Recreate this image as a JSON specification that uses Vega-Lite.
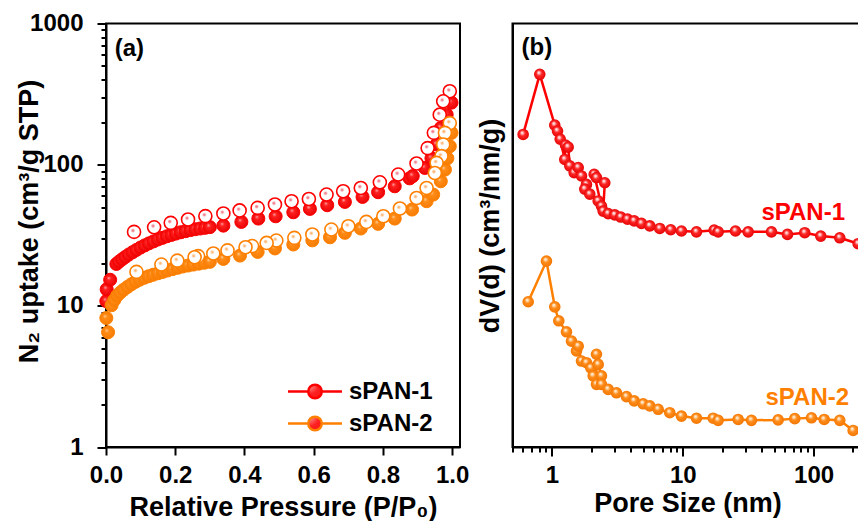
{
  "$schema": "https://vega.github.io/schema/vega-lite/v6.json",
  "background": "white",
  "padding": {"left": 14, "top": 10.5, "right": 0, "bottom": 0},
  "config": {
    "font": "Liberation Sans",
    "view": {"stroke": "black", "strokeWidth": 2},
    "axis": {
      "domainColor": "black", "domainWidth": 2,
      "tickColor": "black", "tickWidth": 2,
      "labelFont": "Liberation Sans", "labelFontSize": 24, "labelFontWeight": "bold", "labelColor": "black",
      "titleFont": "Liberation Sans", "titleFontSize": 27, "titleFontWeight": "bold", "titleColor": "black",
      "grid": false, "labelOverlap": false, "labelBound": false, "labelFlush": false
    },
    "text": {"font": "Liberation Sans", "fontWeight": "bold", "fontSize": 24}
  },
  "datasets": {
    "ads1": [
      {"p": 0.001, "v": 10.8}, {"p": 0.002, "v": 13.1}, {"p": 0.012, "v": 15.3},
      {"p": 0.030, "v": 19.8}, {"p": 0.038, "v": 20.6}, {"p": 0.047, "v": 21.4}, {"p": 0.056, "v": 22.2},
      {"p": 0.066, "v": 23.1}, {"p": 0.077, "v": 24.0}, {"p": 0.088, "v": 24.9}, {"p": 0.100, "v": 25.9},
      {"p": 0.112, "v": 26.8}, {"p": 0.124, "v": 27.7}, {"p": 0.137, "v": 28.6}, {"p": 0.150, "v": 29.5},
      {"p": 0.163, "v": 30.3}, {"p": 0.176, "v": 31.1}, {"p": 0.189, "v": 31.8}, {"p": 0.202, "v": 32.5},
      {"p": 0.216, "v": 33.2}, {"p": 0.230, "v": 33.8}, {"p": 0.244, "v": 34.4}, {"p": 0.258, "v": 34.9},
      {"p": 0.272, "v": 35.3}, {"p": 0.286, "v": 35.7}, {"p": 0.300, "v": 36.1}, {"p": 0.339, "v": 37.0},
      {"p": 0.391, "v": 39.3}, {"p": 0.440, "v": 41.5}, {"p": 0.490, "v": 43.1}, {"p": 0.541, "v": 46.0},
      {"p": 0.589, "v": 48.6}, {"p": 0.639, "v": 51.6}, {"p": 0.690, "v": 54.5}, {"p": 0.741, "v": 59.1},
      {"p": 0.786, "v": 63.8}, {"p": 0.834, "v": 70.3}, {"p": 0.877, "v": 80.0}, {"p": 0.886, "v": 83.0},
      {"p": 0.921, "v": 94.8}, {"p": 0.940, "v": 111}, {"p": 0.955, "v": 139}, {"p": 0.967, "v": 182},
      {"p": 0.984, "v": 226}, {"p": 0.998, "v": 275}
    ],
    "des1": [
      {"p": 0.993, "v": 331}, {"p": 0.974, "v": 281}, {"p": 0.964, "v": 226}, {"p": 0.947, "v": 168},
      {"p": 0.929, "v": 131}, {"p": 0.897, "v": 102}, {"p": 0.844, "v": 85.1}, {"p": 0.791, "v": 75.0},
      {"p": 0.736, "v": 68.4}, {"p": 0.685, "v": 64.8}, {"p": 0.637, "v": 61.4}, {"p": 0.586, "v": 57.1},
      {"p": 0.536, "v": 55.1}, {"p": 0.488, "v": 52.2}, {"p": 0.438, "v": 49.4}, {"p": 0.386, "v": 47.4},
      {"p": 0.339, "v": 45.1}, {"p": 0.287, "v": 43.2}, {"p": 0.237, "v": 40.9}, {"p": 0.187, "v": 38.7},
      {"p": 0.139, "v": 36.0}, {"p": 0.081, "v": 33.4}
    ],
    "ads2": [
      {"p": 0.001, "v": 8.2}, {"p": 0.006, "v": 6.5}, {"p": 0.016, "v": 10.1}, {"p": 0.024, "v": 11.0},
      {"p": 0.032, "v": 11.8}, {"p": 0.041, "v": 12.4}, {"p": 0.051, "v": 13.0}, {"p": 0.062, "v": 13.6},
      {"p": 0.073, "v": 14.2}, {"p": 0.085, "v": 14.8}, {"p": 0.097, "v": 15.3}, {"p": 0.110, "v": 15.8},
      {"p": 0.123, "v": 16.2}, {"p": 0.136, "v": 16.6}, {"p": 0.150, "v": 17.0}, {"p": 0.164, "v": 17.4},
      {"p": 0.178, "v": 17.8}, {"p": 0.192, "v": 18.2}, {"p": 0.207, "v": 18.6}, {"p": 0.222, "v": 19.0},
      {"p": 0.237, "v": 19.3}, {"p": 0.252, "v": 19.6}, {"p": 0.268, "v": 19.9}, {"p": 0.284, "v": 20.2},
      {"p": 0.300, "v": 20.5}, {"p": 0.339, "v": 21.5}, {"p": 0.387, "v": 22.7}, {"p": 0.438, "v": 24.1},
      {"p": 0.488, "v": 25.5}, {"p": 0.541, "v": 27.2}, {"p": 0.596, "v": 29.1}, {"p": 0.647, "v": 30.6},
      {"p": 0.690, "v": 32.9}, {"p": 0.736, "v": 35.3}, {"p": 0.786, "v": 38.1}, {"p": 0.834, "v": 41.5},
      {"p": 0.884, "v": 48.1}, {"p": 0.926, "v": 55.1}, {"p": 0.945, "v": 61.4}, {"p": 0.967, "v": 76.3},
      {"p": 0.979, "v": 92.3}, {"p": 0.986, "v": 111}, {"p": 0.993, "v": 135}, {"p": 0.998, "v": 168}
    ],
    "des2": [
      {"p": 0.993, "v": 197}, {"p": 0.979, "v": 168}, {"p": 0.974, "v": 139}, {"p": 0.969, "v": 115},
      {"p": 0.955, "v": 103}, {"p": 0.950, "v": 87.3}, {"p": 0.926, "v": 68.4}, {"p": 0.897, "v": 58.1},
      {"p": 0.849, "v": 48.9}, {"p": 0.801, "v": 43.1}, {"p": 0.752, "v": 39.3}, {"p": 0.700, "v": 36.6},
      {"p": 0.651, "v": 34.7}, {"p": 0.596, "v": 32.0}, {"p": 0.544, "v": 30.3}, {"p": 0.492, "v": 29.0},
      {"p": 0.464, "v": 27.9}, {"p": 0.422, "v": 26.5}, {"p": 0.403, "v": 26.0}, {"p": 0.351, "v": 24.7},
      {"p": 0.310, "v": 23.5}, {"p": 0.266, "v": 22.5}, {"p": 0.256, "v": 22.1}, {"p": 0.206, "v": 20.9},
      {"p": 0.160, "v": 19.6}, {"p": 0.088, "v": 17.4}
    ],
    "psd1": [
      {"i": 1, "d": 0.603, "dv": 0.738}, {"i": 2, "d": 0.808, "dv": 0.880}, {"i": 3, "d": 1.052, "dv": 0.760},
      {"i": 4, "d": 1.104, "dv": 0.746}, {"i": 5, "d": 1.157, "dv": 0.727}, {"i": 6, "d": 1.255, "dv": 0.679},
      {"i": 7, "d": 1.270, "dv": 0.713}, {"i": 8, "d": 1.332, "dv": 0.708}, {"i": 9, "d": 1.370, "dv": 0.664},
      {"i": 10, "d": 1.480, "dv": 0.648}, {"i": 11, "d": 1.589, "dv": 0.660}, {"i": 12, "d": 1.684, "dv": 0.640},
      {"i": 13, "d": 1.838, "dv": 0.620}, {"i": 14, "d": 1.784, "dv": 0.609}, {"i": 15, "d": 1.948, "dv": 0.597},
      {"i": 16, "d": 2.259, "dv": 0.581}, {"i": 17, "d": 2.393, "dv": 0.569}, {"i": 18, "d": 2.105, "dv": 0.644},
      {"i": 19, "d": 2.192, "dv": 0.636}, {"i": 20, "d": 2.537, "dv": 0.624}, {"i": 21, "d": 2.466, "dv": 0.557},
      {"i": 22, "d": 2.693, "dv": 0.551}, {"i": 23, "d": 3.025, "dv": 0.548}, {"i": 24, "d": 3.362, "dv": 0.543},
      {"i": 25, "d": 3.782, "dv": 0.538}, {"i": 26, "d": 4.256, "dv": 0.534}, {"i": 27, "d": 4.838, "dv": 0.528},
      {"i": 28, "d": 5.601, "dv": 0.522}, {"i": 29, "d": 6.677, "dv": 0.516}, {"i": 30, "d": 8.101, "dv": 0.513},
      {"i": 31, "d": 9.78, "dv": 0.510}, {"i": 32, "d": 12.74, "dv": 0.508}, {"i": 33, "d": 17.39, "dv": 0.512},
      {"i": 34, "d": 18.66, "dv": 0.508}, {"i": 35, "d": 25.30, "dv": 0.510}, {"i": 36, "d": 31.64, "dv": 0.508},
      {"i": 37, "d": 47.67, "dv": 0.508}, {"i": 38, "d": 63.17, "dv": 0.502}, {"i": 39, "d": 85.64, "dv": 0.506},
      {"i": 40, "d": 113.5, "dv": 0.498}, {"i": 41, "d": 158.6, "dv": 0.494}, {"i": 42, "d": 219.2, "dv": 0.480}
    ],
    "psd2": [
      {"i": 1, "d": 0.659, "dv": 0.343}, {"i": 2, "d": 0.909, "dv": 0.439}, {"i": 3, "d": 1.052, "dv": 0.331},
      {"i": 4, "d": 1.129, "dv": 0.298}, {"i": 5, "d": 1.293, "dv": 0.272}, {"i": 6, "d": 1.412, "dv": 0.250},
      {"i": 7, "d": 1.542, "dv": 0.227}, {"i": 8, "d": 1.589, "dv": 0.238}, {"i": 9, "d": 1.684, "dv": 0.203},
      {"i": 10, "d": 1.838, "dv": 0.199}, {"i": 11, "d": 1.983, "dv": 0.187}, {"i": 12, "d": 2.068, "dv": 0.168},
      {"i": 13, "d": 2.192, "dv": 0.148}, {"i": 14, "d": 2.192, "dv": 0.219}, {"i": 15, "d": 2.259, "dv": 0.195},
      {"i": 16, "d": 2.393, "dv": 0.168}, {"i": 17, "d": 2.393, "dv": 0.148}, {"i": 18, "d": 2.693, "dv": 0.136},
      {"i": 19, "d": 3.117, "dv": 0.128}, {"i": 20, "d": 3.716, "dv": 0.119}, {"i": 21, "d": 4.256, "dv": 0.109},
      {"i": 22, "d": 4.985, "dv": 0.102}, {"i": 23, "d": 5.601, "dv": 0.097}, {"i": 24, "d": 6.493, "dv": 0.089},
      {"i": 25, "d": 7.962, "dv": 0.081}, {"i": 26, "d": 9.78, "dv": 0.073}, {"i": 27, "d": 12.74, "dv": 0.068},
      {"i": 28, "d": 17.09, "dv": 0.068}, {"i": 29, "d": 18.66, "dv": 0.063}, {"i": 30, "d": 26.53, "dv": 0.065},
      {"i": 31, "d": 33.53, "dv": 0.063}, {"i": 32, "d": 53.63, "dv": 0.064}, {"i": 33, "d": 71.83, "dv": 0.067},
      {"i": 34, "d": 96.38, "dv": 0.069}, {"i": 35, "d": 120.5, "dv": 0.065}, {"i": 36, "d": 158.6, "dv": 0.063},
      {"i": 37, "d": 200.7, "dv": 0.039}
    ]
  },
  "spacing": 52.5,
  "bounds": "flush",
  "hconcat": [
    {
      "width": 354,
      "height": 423.5,
      "layer": [
        {
          "data": {"name": "ads1"},
          "mark": {
            "type": "point", "shape": "circle", "filled": true, "size": 170, "strokeWidth": 1, "opacity": 1,
            "fill": {"gradient": "radial", "x1": 0.38, "y1": 0.35, "r1": 0, "x2": 0.5, "y2": 0.5, "r2": 0.55,
              "stops": [{"offset": 0, "color": "#ffb0b0"}, {"offset": 0.28, "color": "#ff2020"}, {"offset": 1, "color": "#e60000"}]}
          },
          "encoding": {
            "x": {
              "field": "p", "type": "quantitative",
              "scale": {"domain": [0, 1.0225], "nice": false, "zero": false},
              "axis": {
                "title": "Relative Pressure (P/P₀)",
                "values": [0, 0.1, 0.2, 0.3, 0.4, 0.5, 0.6, 0.7, 0.8, 0.9, 1.0],
                "labelExpr": "round(datum.value * 10) % 2 == 0 ? format(datum.value, '.1f') : ''",
                "tickSize": {"condition": {"test": "round(datum.value * 10) % 2 == 0", "value": 8}, "value": 4},
                "labelPadding": 8,
                "titleY": 60, "titleBaseline": "middle"
              }
            },
            "y": {
              "field": "v", "type": "quantitative",
              "scale": {"type": "log", "domain": [1, 1000], "nice": false},
              "axis": {
                "title": "N₂ uptake (cm³/g STP)",
                "values": [1, 2, 3, 4, 5, 6, 7, 8, 9, 10, 20, 30, 40, 50, 60, 70, 80, 90, 100, 200, 300, 400, 500, 600, 700, 800, 900, 1000],
                "labelExpr": "indexof([1, 10, 100, 1000], datum.value) >= 0 ? format(datum.value, 'd') : ''",
                "tickSize": {"condition": {"test": "indexof([1, 10, 100, 1000], datum.value) >= 0", "value": 9}, "value": 5},
                "labelPadding": 14,
                "titleX": -77, "titleY": 197.5, "titleBaseline": "middle"
              }
            },
            "stroke": {
              "datum": "sPAN-1",
              "scale": {"domain": ["sPAN-1", "sPAN-2"], "range": ["#ff0000", "#ff8000"]},
              "legend": {
                "title": null, "orient": "none", "legendX": 197, "legendY": 356, "padding": 0,
                "symbolType": "M-4,0H-1M1,0H4M-1,0A1,1 0 1,0 1,0A1,1 0 1,0 -1,0Z",
                "symbolSize": 182, "symbolStrokeWidth": 2.5, "symbolOpacity": 1,
                "labelOffset": 22, "labelFont": "Liberation Sans", "labelFontSize": 24, "labelFontWeight": "bold",
                "rowPadding": 8,
                "encode": {
                  "symbols": {"update": {
                    "fill": {"signal": "datum.value === 'sPAN-1' ? '#ff0000' : '#ff8000'"},
                    "stroke": {"signal": "datum.value === 'sPAN-1' ? '#ff0000' : '#ff8000'"}
                  }},
                  "labels": {"update": {
                    "fill": {"signal": "datum.value === 'sPAN-1' ? '#ff0000' : '#ff8000'"}
                  }}
                }
              }
            }
          }
        },
        {
          "data": {"name": "des1"},
          "mark": {
            "type": "point", "shape": "circle", "filled": true, "size": 170, "stroke": "#ff0000", "strokeWidth": 1.6, "opacity": 1,
            "fill": {"gradient": "radial", "x1": 0.42, "y1": 0.4, "r1": 0, "x2": 0.42, "y2": 0.4, "r2": 0.55,
              "stops": [{"offset": 0, "color": "#f06878"}, {"offset": 0.17, "color": "#f49aa4"}, {"offset": 0.3, "color": "#ffffff"}, {"offset": 1, "color": "#ffffff"}]}
          },
          "encoding": {
            "x": {"field": "p", "type": "quantitative"},
            "y": {"field": "v", "type": "quantitative"}
          }
        },
        {
          "data": {"name": "ads2"},
          "mark": {
            "type": "point", "shape": "circle", "filled": true, "size": 170, "stroke": "#ff8000", "strokeWidth": 1, "opacity": 1,
            "fill": {"gradient": "radial", "x1": 0.38, "y1": 0.35, "r1": 0, "x2": 0.5, "y2": 0.5, "r2": 0.55,
              "stops": [{"offset": 0, "color": "#ffd2a0"}, {"offset": 0.28, "color": "#ff8c18"}, {"offset": 1, "color": "#f57a00"}]}
          },
          "encoding": {
            "x": {"field": "p", "type": "quantitative"},
            "y": {"field": "v", "type": "quantitative"}
          }
        },
        {
          "data": {"name": "des2"},
          "mark": {
            "type": "point", "shape": "circle", "filled": true, "size": 170, "stroke": "#ff8000", "strokeWidth": 1.6, "opacity": 1,
            "fill": {"gradient": "radial", "x1": 0.42, "y1": 0.4, "r1": 0, "x2": 0.42, "y2": 0.4, "r2": 0.55,
              "stops": [{"offset": 0, "color": "#ffa860"}, {"offset": 0.17, "color": "#ffc690"}, {"offset": 0.3, "color": "#ffffff"}, {"offset": 1, "color": "#ffffff"}]}
          },
          "encoding": {
            "x": {"field": "p", "type": "quantitative"},
            "y": {"field": "v", "type": "quantitative"}
          }
        },
        {
          "data": {"values": [{"panel": "a"}]},
          "mark": {"type": "text", "text": "(a)", "align": "left", "baseline": "middle", "color": "black"},
          "encoding": {
            "x": {"datum": 0.025, "type": "quantitative"},
            "y": {"datum": 661, "type": "quantitative"}
          }
        }
      ]
    },
    {
      "width": 350,
      "height": 423.5,
      "layer": [
        {
          "data": {"name": "psd1"},
          "mark": {"type": "line", "color": "#ff0000", "strokeWidth": 2.5},
          "encoding": {
            "x": {
              "field": "d", "type": "quantitative",
              "scale": {"type": "log", "domain": [0.5, 236.6], "nice": false},
              "axis": {
                "title": "Pore Size (nm)",
                "values": [0.5, 0.6, 0.7, 0.8, 0.9, 1, 2, 3, 4, 5, 6, 7, 8, 9, 10, 20, 30, 40, 50, 60, 70, 80, 90, 100, 200],
                "labelExpr": "indexof([1, 10, 100], datum.value) >= 0 ? format(datum.value, 'd') : ''",
                "tickSize": {"condition": {"test": "indexof([1, 10, 100], datum.value) >= 0", "value": 9}, "value": 5},
                "labelPadding": 7,
                "titleY": 56, "titleBaseline": "middle"
              }
            },
            "y": {
              "field": "dv", "type": "quantitative",
              "scale": {"domain": [0, 1], "nice": false, "zero": false},
              "axis": {
                "title": "dV(d) (cm³/nm/g)",
                "labels": false, "ticks": false,
                "titleX": -22, "titleY": 202, "titleBaseline": "middle"
              }
            },
            "order": {"field": "i", "type": "quantitative"}
          }
        },
        {
          "data": {"name": "psd1"},
          "mark": {
            "type": "point", "shape": "circle", "filled": true, "size": 135, "opacity": 1,
            "fill": {"gradient": "radial", "x1": 0.4, "y1": 0.33, "r1": 0, "x2": 0.5, "y2": 0.5, "r2": 0.55,
              "stops": [{"offset": 0, "color": "#ffffff"}, {"offset": 0.15, "color": "#ffd0d0"}, {"offset": 0.42, "color": "#ff2626"}, {"offset": 1, "color": "#e00000"}]}
          },
          "encoding": {
            "x": {"field": "d", "type": "quantitative"},
            "y": {"field": "dv", "type": "quantitative"}
          }
        },
        {
          "data": {"name": "psd2"},
          "mark": {"type": "line", "color": "#ff8000", "strokeWidth": 2.5},
          "encoding": {
            "x": {"field": "d", "type": "quantitative"},
            "y": {"field": "dv", "type": "quantitative"},
            "order": {"field": "i", "type": "quantitative"}
          }
        },
        {
          "data": {"name": "psd2"},
          "mark": {
            "type": "point", "shape": "circle", "filled": true, "size": 135, "opacity": 1,
            "fill": {"gradient": "radial", "x1": 0.4, "y1": 0.33, "r1": 0, "x2": 0.5, "y2": 0.5, "r2": 0.55,
              "stops": [{"offset": 0, "color": "#ffffff"}, {"offset": 0.15, "color": "#ffe2c0"}, {"offset": 0.42, "color": "#ff8c1a"}, {"offset": 1, "color": "#f07400"}]}
          },
          "encoding": {
            "x": {"field": "d", "type": "quantitative"},
            "y": {"field": "dv", "type": "quantitative"}
          }
        },
        {
          "data": {"values": [{"panel": "b"}]},
          "mark": {"type": "text", "text": "(b)", "align": "left", "baseline": "middle", "color": "black"},
          "encoding": {
            "x": {"datum": 0.586, "type": "quantitative"},
            "y": {"datum": 0.941, "type": "quantitative"}
          }
        },
        {
          "data": {"values": [{"sample": "sPAN-1"}]},
          "mark": {"type": "text", "text": "sPAN-1", "align": "center", "baseline": "middle", "color": "#ff0000"},
          "encoding": {
            "x": {"datum": 83.3, "type": "quantitative"},
            "y": {"datum": 0.553, "type": "quantitative"}
          }
        },
        {
          "data": {"values": [{"sample": "sPAN-2"}]},
          "mark": {"type": "text", "text": "sPAN-2", "align": "center", "baseline": "middle", "color": "#ff8000"},
          "encoding": {
            "x": {"datum": 89.5, "type": "quantitative"},
            "y": {"datum": 0.116, "type": "quantitative"}
          }
        }
      ]
    }
  ]
}
